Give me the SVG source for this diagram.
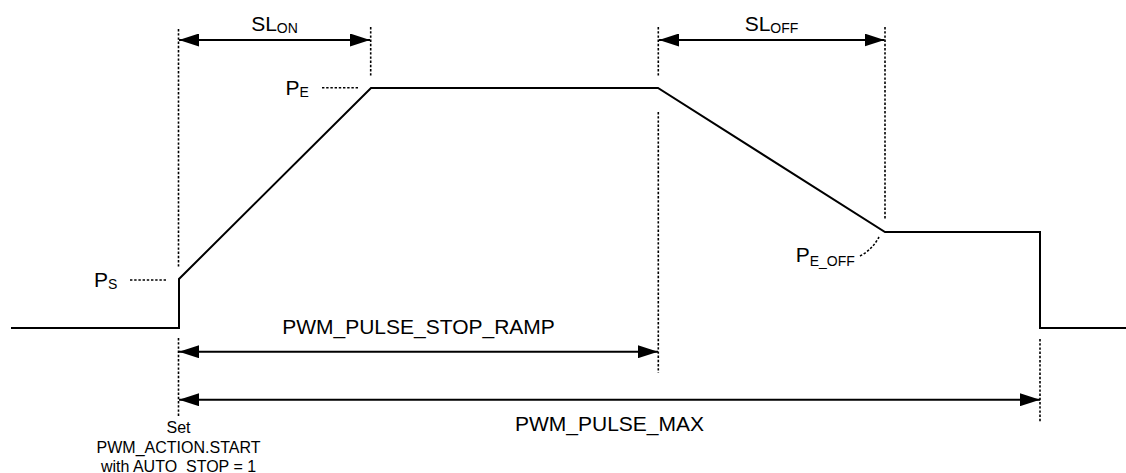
<svg xmlns="http://www.w3.org/2000/svg" width="1126" height="473" viewBox="0 0 1126 473">
<style>
.wave{fill:none;stroke:#000;stroke-width:2;stroke-linejoin:miter}
.dot{fill:none;stroke:#000;stroke-width:1.6;stroke-dasharray:2.4,1.8}
.dim{fill:none;stroke:#000;stroke-width:2}
.t{font-family:"Liberation Sans",Arial,sans-serif;font-size:21px;fill:#000}
.s{font-size:14px}
.n{font-family:"Liberation Sans",Arial,sans-serif;font-size:16px;fill:#000;text-anchor:middle}
</style>
<defs>
<marker id="ah" markerUnits="userSpaceOnUse" markerWidth="20" markerHeight="13" refX="20" refY="6.5" orient="auto-start-reverse" viewBox="0 0 20 13">
<path d="M0,0 L20,6.5 L0,13 z" fill="#000"/>
</marker>
</defs>
<g id="waveform">
<path class="wave" d="M11,328 H179 V279 L371,88 H658 L885,232 H1040 V328 H1126"/>
</g>
<g id="guides">
<line class="dot" x1="178.5" y1="29" x2="178.5" y2="268"/>
<line class="dot" x1="178.5" y1="338" x2="178.5" y2="417"/>
<line class="dot" x1="370.7" y1="27" x2="370.7" y2="76"/>
<line class="dot" x1="658.3" y1="27" x2="658.3" y2="76"/>
<line class="dot" x1="658.3" y1="112" x2="658.3" y2="373"/>
<line class="dot" x1="885" y1="27" x2="885" y2="220"/>
<line class="dot" x1="1040" y1="339" x2="1040" y2="423"/>
<line class="dot" x1="322" y1="87.7" x2="359" y2="87.7"/>
<line class="dot" x1="130" y1="280" x2="167" y2="280"/>
<path class="dot" d="M860,256 Q872,250 879,237"/>
</g>
<g id="connectors">
<line class="dim" x1="179" y1="40" x2="370" y2="40" marker-start="url(#ah)" marker-end="url(#ah)"/>
<line class="dim" x1="659" y1="40" x2="884.5" y2="40" marker-start="url(#ah)" marker-end="url(#ah)"/>
<line class="dim" x1="179" y1="351.7" x2="658" y2="351.7" marker-start="url(#ah)" marker-end="url(#ah)"/>
<line class="dim" x1="179" y1="399.7" x2="1040" y2="399.7" marker-start="url(#ah)" marker-end="url(#ah)"/>
</g>
<g id="label-slon"><text class="t" x="274.5" y="31" text-anchor="middle">SL<tspan class="s" dy="2.3">ON</tspan></text></g>
<g id="label-sloff"><text class="t" x="771.5" y="31" text-anchor="middle">SL<tspan class="s" dy="2.3">OFF</tspan></text></g>
<g id="label-pe"><text class="t" x="285.5" y="95">P<tspan class="s" dy="2">E</tspan></text></g>
<g id="label-ps"><text class="t" x="94" y="286.7">P<tspan class="s" dy="2.3">S</tspan></text></g>
<g id="label-peoff"><text class="t" x="795.7" y="262.3">P<tspan class="s" dy="4">E_OFF</tspan></text></g>
<g id="label-stopramp"><text class="t" x="418.5" y="334" text-anchor="middle">PWM_PULSE_STOP_RAMP</text></g>
<g id="label-max"><text class="t" x="609.5" y="430.7" text-anchor="middle">PWM_PULSE_MAX</text></g>
<g id="label-set">
<text class="n" x="178.5" y="433.3">Set</text>
<text class="n" x="178.5" y="453.3">PWM_ACTION.START</text>
<text class="n" x="178.5" y="471.7">with AUTO_STOP = 1</text>
</g>
</svg>
